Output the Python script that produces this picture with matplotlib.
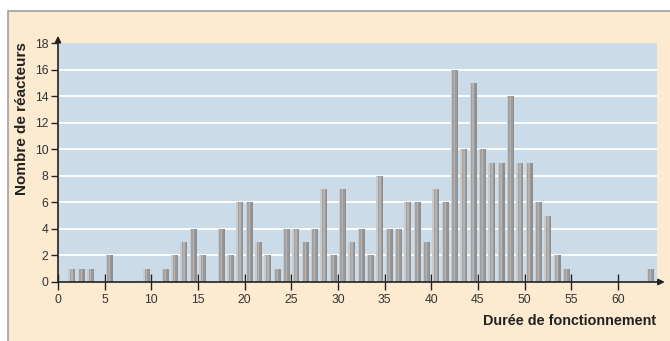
import matplotlib
matplotlib.use("Agg")
import matplotlib.pyplot as plt
from matplotlib.patches import Rectangle
import numpy as np

plt.rcParams['font.family'] = ['Liberation Sans', 'DejaVu Sans']

ages = [1, 2, 3, 5, 9, 11, 12, 13, 14, 15, 17, 18, 19, 20, 21, 22, 23, 24, 25, 26,
        27, 28, 29, 30, 31, 32, 33, 34, 35, 36, 37, 38, 39, 40, 41, 42, 43, 44, 45, 46,
        47, 48, 49, 50, 51, 52, 53, 54, 63]
counts = [1, 1, 1, 2, 1, 1, 2, 3, 4, 2, 4, 2, 6, 6, 3, 2, 1, 4, 4, 3,
          4, 7, 2, 7, 3, 4, 2, 8, 4, 4, 6, 6, 3, 7, 6, 16, 10, 15, 10, 9,
          9, 14, 9, 9, 6, 5, 2, 1, 1]
xticks = [0, 5, 10, 15, 20, 25, 30, 35, 40, 45, 50, 55, 60]
yticks = [0, 2, 4, 6, 8, 10, 12, 14, 16, 18]

W, H = 670, 341
fig = plt.figure(figsize=(W / 100, H / 100), dpi=100)
fig.patch.set_facecolor('white')

# peach frame
frame = Rectangle((8 / W, -0.01), 1.0, 1 - 10.5 / H + 0.01, transform=fig.transFigure,
                  facecolor='#fdebd1', edgecolor='#a0a0a0', linewidth=1.2, zorder=-10)
fig.patches.append(frame)

ax = fig.add_axes([58 / W, 1 - 282 / H, (657 - 58) / W, (282 - 43) / H])
ax.set_zorder(2)
ax.set_facecolor('#cbdce8')
ax.set_xlim(0, 64.2)
ax.set_ylim(0, 18)

for y in yticks[1:-1]:
    ax.axhline(y, color='white', lw=1.3, zorder=1)

pos = np.array(ages) + 0.5
bw = 0.75
strips = ['#cacaca', '#a2a2a2', '#b3b3b3', '#9a9a9a', '#8f8f8f']
n = len(strips)
for i, c in enumerate(strips):
    off = -bw / 2 + (i + 0.5) * bw / n
    ax.bar(pos + off, counts, width=bw / n, color=c, linewidth=0, zorder=2)

for s in ax.spines.values():
    s.set_visible(False)

ax.set_xticks(xticks)
ax.set_yticks(yticks)
ax.tick_params(axis='x', direction='inout', length=11, width=1, color='#222222',
               labelsize=8.7, labelcolor='#333333', pad=3)
ax.tick_params(axis='y', direction='out', length=5, width=1, color='#222222',
               labelsize=8.7, labelcolor='#333333', pad=2)

# axis lines with arrows
ax.annotate('', xy=(1.013, 0), xytext=(0, 0), xycoords='axes fraction',
            arrowprops=dict(arrowstyle='-|>', color='#222222', lw=1.2,
                            mutation_scale=9, shrinkA=0, shrinkB=0),
            annotation_clip=False, zorder=5)
ax.annotate('', xy=(0, 1.03), xytext=(0, 0), xycoords='axes fraction',
            arrowprops=dict(arrowstyle='-|>', color='#222222', lw=1.2,
                            mutation_scale=9, shrinkA=0, shrinkB=0),
            annotation_clip=False, zorder=5)

fig.text(656 / W, 1 - 321 / H, 'Durée de fonctionnement', ha='right', va='center',
         fontsize=10.4, fontweight='bold', color='#222222')
fig.text(22 / W, 1 - 42 / H, 'Nombre de réacteurs', ha='center', va='top',
         rotation=90, fontsize=11, fontweight='bold', color='#222222')

fig.savefig('out.png', dpi=100, facecolor=fig.get_facecolor())
